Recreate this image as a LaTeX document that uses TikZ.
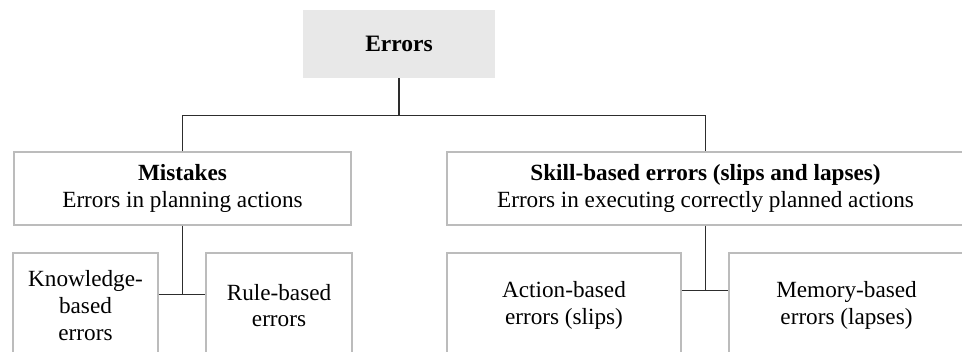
\documentclass[tikz,border=0pt]{standalone}
\usepackage{fontspec}
\setmainfont{Liberation Serif}
\usepackage{tikz}
\usetikzlibrary{calc}
\definecolor{boxgray}{RGB}{188,188,188}
\definecolor{topfill}{RGB}{232,232,232}
\definecolor{linkgray}{RGB}{45,45,45}
\tikzset{
   topbox/.style={fill=topfill, inner sep=0pt, align=center,
      font=\fontsize{23.5}{26.7}\selectfont\bfseries},
   catbox/.style={draw=boxgray, line width=1.3pt, inner sep=0pt, align=center,
      minimum height=73pt, font=\fontsize{23.2}{26.7}\selectfont},
   leafbox/.style={draw=boxgray, line width=1.3pt, inner sep=0pt, align=center,
      minimum height=105pt, font=\fontsize{23.2}{26.7}\selectfont},
   link/.style={draw=linkgray, line width=1.1pt},
    }

\begin{document}
\begin{tikzpicture}[x=1pt, y=-1pt]
            \useasboundingbox (0,0) rectangle (962,352);
            \clip (0,0) rectangle (962,352);
            \node[topbox, minimum width=192pt, minimum height=68pt] (err) at (399,44) {Errors};
            \node[catbox, minimum width=337pt] (mis) at (182.5,188.5)
                {\textbf{Mistakes}\\Errors in planning actions};
            \node[catbox, minimum width=517pt] (skl) at (705.5,188.5)
                {\textbf{Skill-based errors (slips and lapses)}\\Errors in executing correctly planned actions};
            \node[leafbox, minimum width=145pt] (knw) at (85.5,305.5) {Knowledge-\\based\\errors};
            \node[leafbox, minimum width=146pt] (rul) at (279,305.5) {Rule-based\\errors};
            \node[leafbox, minimum width=234pt] (act) at (564,305.5) {Action-based\\errors (slips)};
            \node[leafbox, minimum width=235pt] (mem) at (846.5,305.5) {Memory-based\\errors (lapses)};
            \draw[link] (err.south) -- ++(0,37) coordinate (split);
            \draw[link] (mis.north) |- (split) -| (skl.north);
            \draw[link] (mis.south) -- ++(0,69) coordinate (misjoin);
            \draw[link] (knw.east |- misjoin) -- (rul.west |- misjoin);
            \draw[link] (skl.south) -- ++(0,65) coordinate (skljoin);
            \draw[link] (act.east |- skljoin) -- (mem.west |- skljoin);
        \end{tikzpicture}
\end{document}
